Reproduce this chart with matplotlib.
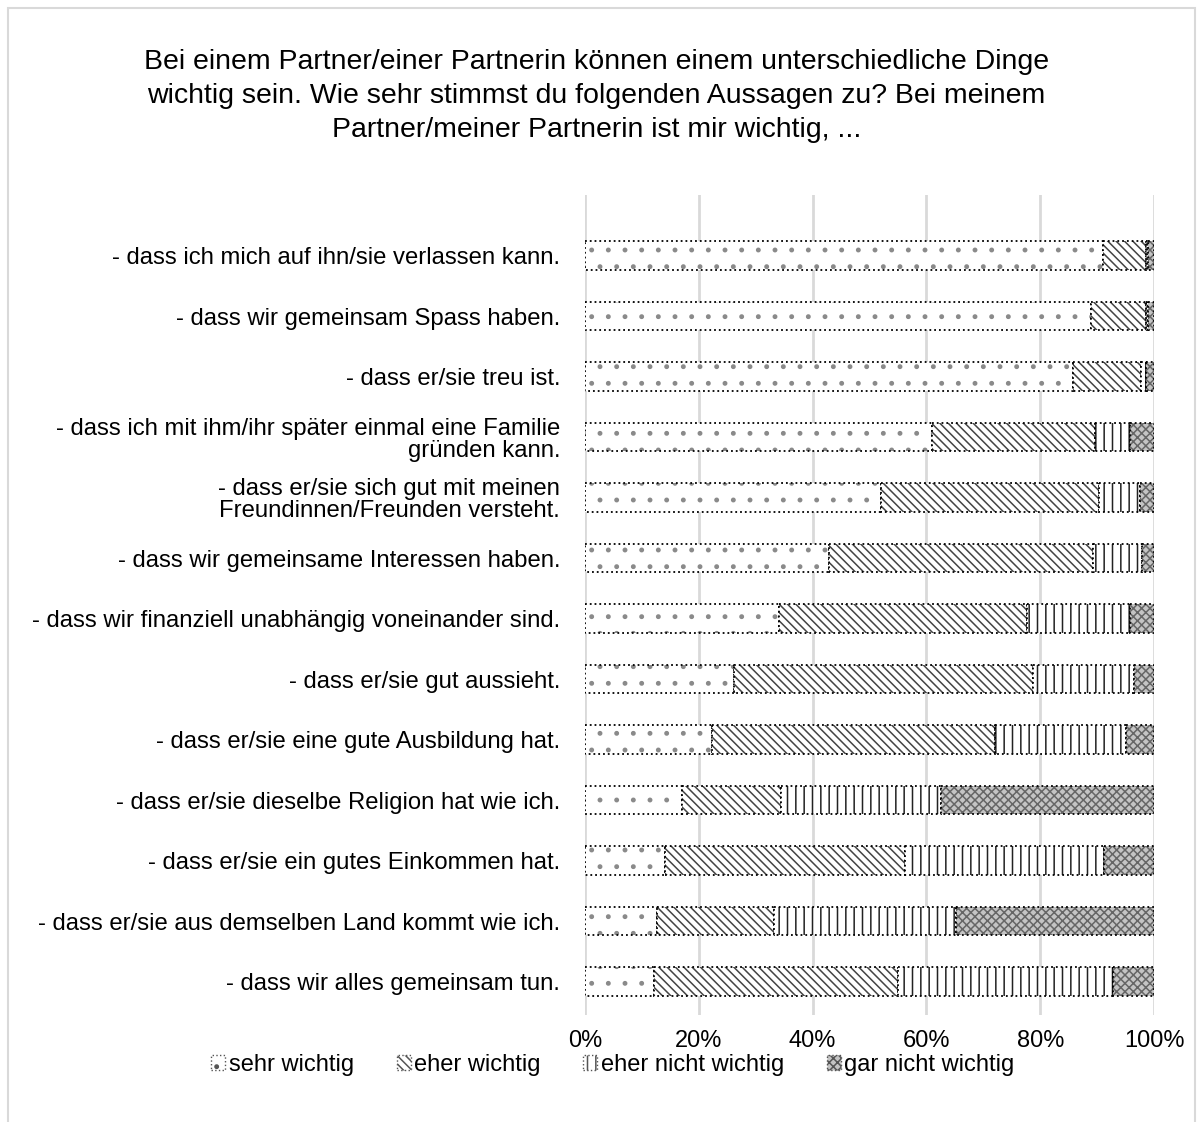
import numpy as np
import matplotlib.pyplot as plt
from matplotlib.patches import Rectangle, Patch

plt.rcParams['font.family'] = ['Liberation Sans', 'DejaVu Sans']
plt.rcParams['hatch.linewidth'] = 1.1

title = ("Bei einem Partner/einer Partnerin können einem unterschiedliche Dinge\n"
         "wichtig sein. Wie sehr stimmst du folgenden Aussagen zu? Bei meinem\n"
         "Partner/meiner Partnerin ist mir wichtig, ...")

statements = [
    "- dass ich mich auf ihn/sie verlassen kann.",
    "- dass wir gemeinsam Spass haben.",
    "- dass er/sie treu ist.",
    "- dass ich mit ihm/ihr später einmal eine Familie\ngründen kann.",
    "- dass er/sie sich gut mit meinen\nFreundinnen/Freunden versteht.",
    "- dass wir gemeinsame Interessen haben.",
    "- dass wir finanziell unabhängig voneinander sind.",
    "- dass er/sie gut aussieht.",
    "- dass er/sie eine gute Ausbildung hat.",
    "- dass er/sie dieselbe Religion hat wie ich.",
    "- dass er/sie ein gutes Einkommen hat.",
    "- dass er/sie aus demselben Land kommt wie ich.",
    "- dass wir alles gemeinsam tun.",
]

categories = ["sehr wichtig", "eher wichtig", "eher nicht wichtig", "gar nicht wichtig"]

# percentages
sehr_wichtig = [91.0, 89.0, 85.7, 61.0, 52.0, 42.9, 34.1, 26.1, 22.3, 17.0, 14.1, 12.7, 12.2]
eher_wichtig = [7.5, 9.5, 12.0, 28.7, 38.3, 46.4, 43.6, 52.6, 49.7, 17.5, 42.1, 20.6, 42.8]
eher_nicht = [0.5, 0.5, 0.8, 6.1, 7.2, 8.6, 18.0, 17.8, 23.1, 28.0, 35.0, 31.9, 37.7]
gar_nicht = [1.0, 1.0, 1.5, 4.2, 2.5, 2.1, 4.3, 3.5, 4.9, 37.5, 8.8, 34.8, 7.3]

series = [sehr_wichtig, eher_wichtig, eher_nicht, gar_nicht]
fills = [
    dict(facecolor="white", edgecolor="#8a8a8a", hatch="."),
    dict(facecolor="white", edgecolor="#444444", hatch="\\\\\\\\"),
    dict(facecolor="white", edgecolor="#222222", hatch="||"),
    dict(facecolor="#c4c4c4", edgecolor="#666666", hatch="xxxx"),
]

fig = plt.figure(figsize=(12.02, 11.22), dpi=100)
ax = fig.add_axes([0.4867, 0.0954, 0.4734, 0.7308])

y = np.arange(len(statements))
left = np.zeros(len(statements))
for vals, st in zip(series, fills):
    vals = np.array(vals)
    ax.barh(y, vals, left=left, height=0.47, linewidth=0, **st)
    # dotted black outline on top of the pattern
    ax.barh(y, vals, left=left, height=0.47, fill=False, edgecolor="black",
            linestyle=":", linewidth=1.3)
    left += vals

ax.set_xlim(0, 100)
ax.set_ylim(12.55, -1.0)
ax.set_yticks(y)
ax.set_yticklabels(statements, fontsize=17.2, linespacing=1.0)
ax.set_xticks(np.arange(0, 101, 20))
ax.set_xticklabels([f"{v}%" for v in range(0, 101, 20)], fontsize=17)
ax.tick_params(length=0, pad=18, axis='y')
ax.tick_params(length=0, pad=11, axis='x')
for lbl in ax.get_yticklabels():
    lbl.set_horizontalalignment('right')
    lbl.set_multialignment('right')
for s in ax.spines.values():
    s.set_visible(False)
ax.set_axisbelow(True)
ax.grid(axis='x', color='#d9d9d9', linewidth=2)

fig.text(0.496, 0.956, title, ha='center', va='top', fontsize=20.5, linespacing=1.38)

handles = [Patch(facecolor=st["facecolor"], edgecolor="#555555", hatch=st["hatch"],
                 linestyle=":", linewidth=1) for st in fills]
fig.legend(handles, categories, loc='center', bbox_to_anchor=(0.51, 0.051), ncol=4,
           frameon=False, fontsize=17, handlelength=0.6, handleheight=0.6,
           handletextpad=0.15, columnspacing=1.8)

fig.patches.append(Rectangle((8 / 1202, -0.01), 1187 / 1202, 1 - 8 / 1122 + 0.01,
                             transform=fig.transFigure, fill=False,
                             edgecolor='#d9d9d9', linewidth=1.5))

plt.savefig("out.png", dpi=100)
